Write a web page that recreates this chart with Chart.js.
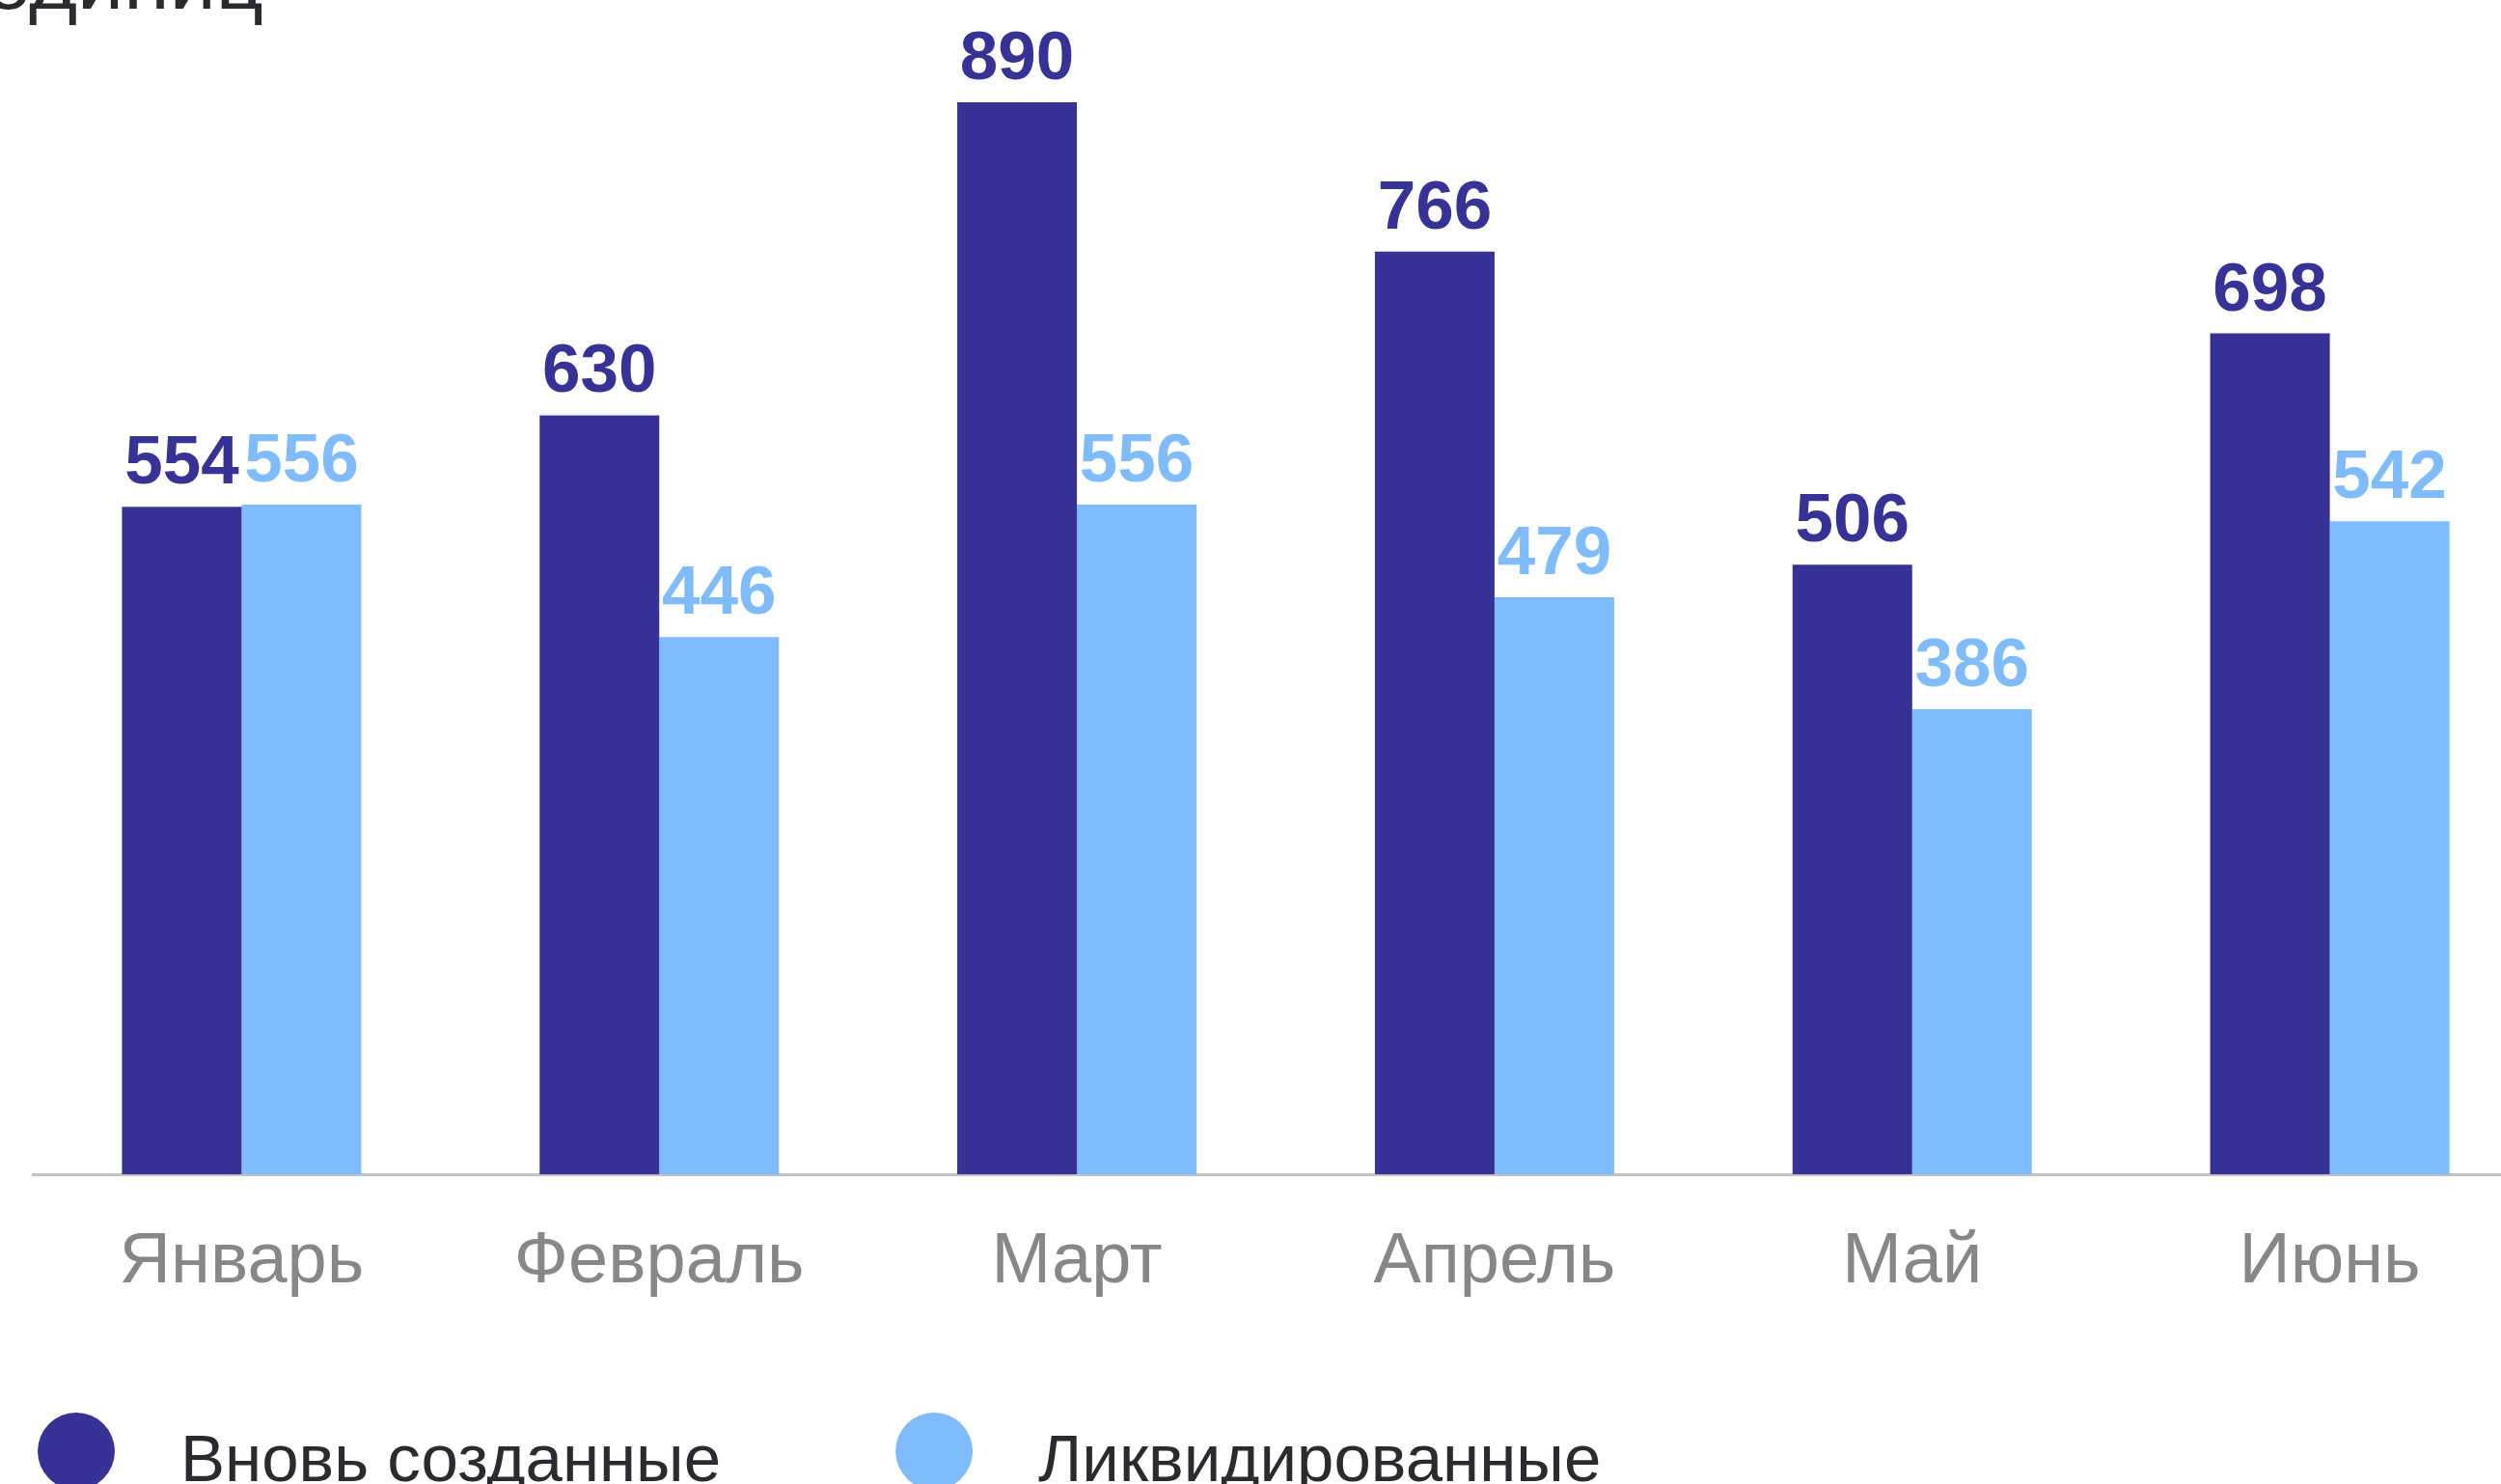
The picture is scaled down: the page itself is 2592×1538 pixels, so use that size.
<!DOCTYPE html>
<html lang="ru">
<head>
<meta charset="utf-8">
<title>Организации по месяцам</title>
<script src="https://cdn.jsdelivr.net/npm/chart.js@4.4.1/dist/chart.umd.min.js"></script>
<style>
    html, body { margin: 0; padding: 0; background: #fff; overflow: hidden; }
    #wrap { position: absolute; left: 0; top: 0; width: 2640px; height: 1538px; }
</style>
</head>
<body>
<div id="wrap"><canvas id="orgs_chart"></canvas></div>
<script>
const months = ['Январь', 'Февраль', 'Март', 'Апрель', 'Май', 'Июнь'];
const createdValues = [554, 630, 890, 766, 506, 698];
const liquidatedValues = [556, 446, 556, 479, 386, 542];
const seriesNames = ['Вновь созданные', 'Ликвидированные'];
const unitsText = 'единиц';

const FONT = '"Liberation Sans", Arial, sans-serif';
const DARK = '#373295';
const LIGHT = '#80bcfc';
const TEXT = '#2a2b2f';

document.addEventListener('DOMContentLoaded', function () {
    const ctx = document.getElementById('orgs_chart').getContext('2d');

    // значения над столбиками
    const valueLabels = {
        id: 'valueLabels',
        afterDatasetsDraw(chart) {
            const c = chart.ctx;
            c.save();
            c.font = 'bold 71px ' + FONT;
            c.textAlign = 'center';
            c.textBaseline = 'alphabetic';
            chart.data.datasets.forEach((ds, i) => {
                const meta = chart.getDatasetMeta(i);
                c.fillStyle = ds.backgroundColor;
                meta.data.forEach((bar, j) => {
                    c.fillText(String(ds.data[j]), bar.x, bar.y - 24);
                });
            });
            c.restore();
        }
    };

    // обрезанный заголовок сверху и легенда снизу
    const titleAndLegend = {
        id: 'titleAndLegend',
        afterDraw(chart) {
            const c = chart.ctx;
            c.save();
            c.fillStyle = TEXT;
            c.font = '86px ' + FONT;
            c.textAlign = 'left';
            c.textBaseline = 'alphabetic';
            c.fillText(unitsText, -16, 9);

            c.font = '69px ' + FONT;
            let x = 39;
            chart.data.datasets.forEach((ds) => {
                c.fillStyle = ds.backgroundColor;
                c.beginPath();
                c.arc(x + 40, 1504, 40, 0, Math.PI * 2);
                c.fill();
                c.fillStyle = TEXT;
                c.fillText(ds.label, x + 148, 1535);
                x += 148 + c.measureText(ds.label).width + 181;
            });
            c.restore();
        }
    };

    new Chart(ctx, {
        type: 'bar',
        data: {
            labels: months,
            datasets: [{
                label: seriesNames[0],
                data: createdValues,
                backgroundColor: DARK,
                borderWidth: 0
            }, {
                label: seriesNames[1],
                data: liquidatedValues,
                backgroundColor: LIGHT,
                borderWidth: 0
            }]
        },
        options: {
            responsive: true,
            maintainAspectRatio: false,
            animation: false,
            devicePixelRatio: 1,
            layout: {
                padding: { left: 34, right: 9, top: 31, bottom: 0 }
            },
            datasets: {
                bar: {
                    categoryPercentage: 0.573,
                    barPercentage: 1.0
                }
            },
            plugins: {
                legend: { display: false },
                title: { display: false },
                tooltip: { enabled: false }
            },
            scales: {
                x: {
                    z: 1,
                    grid: { display: false, drawTicks: false },
                    border: { display: true, color: '#c2c2c2', width: 3 },
                    ticks: {
                        color: '#878787',
                        font: { family: FONT, size: 74 },
                        padding: 47,
                        maxRotation: 0,
                        autoSkip: false
                    },
                    afterFit(scale) {
                        scale.height = 321;
                    }
                },
                y: {
                    display: false,
                    min: 0,
                    max: 950
                }
            }
        },
        plugins: [valueLabels, titleAndLegend]
    });
});
</script>
</body>
</html>
